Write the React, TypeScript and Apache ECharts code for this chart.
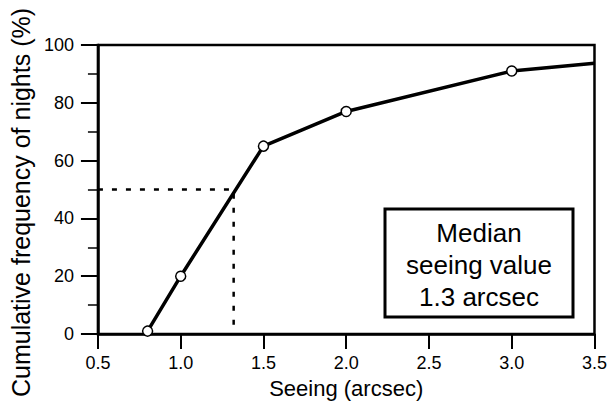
import React, { useEffect, useRef } from "react";
import * as echarts from "echarts";

const seeing = [0.8, 1.0, 1.5, 2.0, 3.0, 3.5];
const cumulative = [1, 20, 65, 77, 91, 93.7];
const markerFlags = [true, true, true, true, true, false];
const medianSeeing = 1.32;
const medianPercent = 50;
const xAxisMin = 0.5;
const boxLines = ["Median", "seeing value", "1.3 arcsec"];

const FONT = "'Liberation Sans', Arial, Helvetica, sans-serif";

export default function App() {
  const ref = useRef<HTMLDivElement>(null);
  useEffect(() => {
    if (!ref.current) return;
    const chart = echarts.init(ref.current, undefined, { renderer: "svg" });
    const mainData = seeing.map((x, i) => ({
      value: [x, cumulative[i]],
      symbol: markerFlags[i] ? "circle" : "none",
    }));
    const dashData = [
      [xAxisMin, medianPercent],
      [medianSeeing, medianPercent],
      [medianSeeing, 0],
    ];
    chart.setOption({
      animation: false,
      backgroundColor: "#ffffff",
      grid: {
        left: 95,
        right: 14,
        top: 45,
        bottom: 79,
        show: true,
        borderColor: "#000",
        borderWidth: 2.5,
        backgroundColor: "transparent",
      },
      xAxis: {
        type: "value",
        min: 0.5,
        max: 3.5,
        interval: 0.5,
        name: "Seeing (arcsec)",
        nameLocation: "middle",
        nameGap: 43,
        nameTextStyle: { fontSize: 22, color: "#000", fontFamily: FONT },
        axisLine: { show: true, lineStyle: { color: "#000", width: 2.5 } },
        axisTick: { show: true, inside: false, length: 15, lineStyle: { color: "#000", width: 2 } },
        axisLabel: {
          margin: 20,
          fontSize: 18,
          color: "#000",
          fontFamily: FONT,
          formatter: (v: number) => v.toFixed(1),
        },
        splitLine: { show: false },
      },
      yAxis: {
        type: "value",
        min: 0,
        max: 100,
        interval: 20,
        name: "Cumulative frequency of nights (%)",
        nameLocation: "middle",
        nameGap: 63,
        nameTextStyle: { fontSize: 25, color: "#000", fontFamily: FONT, padding: [0, 26, 0, 0] },
        axisLine: { show: true, lineStyle: { color: "#000", width: 2.5 } },
        axisTick: { show: true, inside: false, length: 17, lineStyle: { color: "#000", width: 2 } },
        minorTick: { show: true, splitNumber: 2, length: 10, lineStyle: { color: "#000", width: 1.5 } },
        axisLabel: { margin: 24, fontSize: 18, color: "#000", fontFamily: FONT },
        splitLine: { show: false },
        minorSplitLine: { show: false },
      },
      series: [
        {
          type: "line",
          data: dashData,
          symbol: "none",
          lineStyle: { color: "#000", width: 2.5, type: [5, 9] },
          silent: true,
          z: 1,
        },
        {
          type: "line",
          data: mainData,
          symbol: "circle",
          symbolSize: 10,
          showAllSymbol: true,
          lineStyle: { color: "#000", width: 3.5 },
          itemStyle: { color: "#fff", borderColor: "#000", borderWidth: 1.5 },
          z: 3,
        },
      ],
      graphic: [
        {
          type: "rect",
          shape: { x: 385, y: 209, width: 188, height: 108 },
          style: { fill: "#fff", stroke: "#000", lineWidth: 3 },
          z: 10,
        },
        ...boxLines.map((t, i) => ({
          type: "text",
          x: 479,
          y: 233 + i * 32,
          style: {
            text: t,
            fontSize: 26,
            fontFamily: FONT,
            fill: "#000",
            align: "center",
            verticalAlign: "middle",
          },
          z: 11,
        })),
      ],
    });
    return () => chart.dispose();
  }, []);
  return <div ref={ref} style={{ width: 610, height: 413, position: "absolute", left: 0, top: 0 }} />;
}
